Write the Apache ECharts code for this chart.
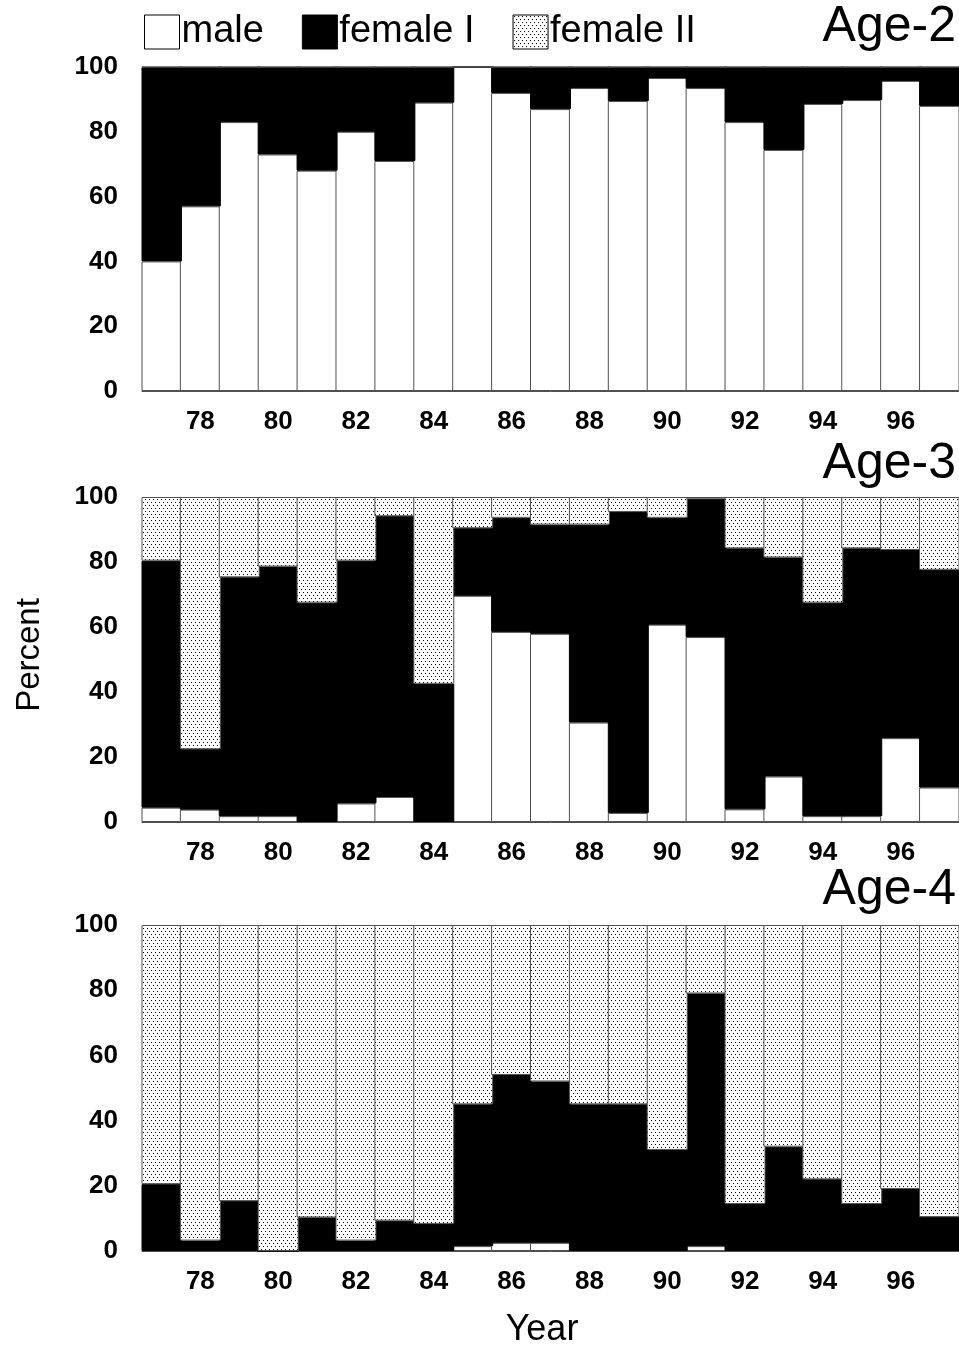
<!DOCTYPE html>
<html>
<head>
<meta charset="utf-8">
<script src="https://cdn.jsdelivr.net/npm/echarts@6/dist/echarts.min.js"></script>
<style>
  html, body { margin: 0; padding: 0; background: #fff; }
  #chart { width: 959px; height: 1347px; }
</style>
</head>
<body>
<div id="chart"></div>
<script>
// Sex / maturity composition (percent) by year, for three age classes
const years = ['77','78','79','80','81','82','83','84','85','86','87','88','89','90','91','92','93','94','95','96','97'];
const yTicks = [0, 20, 40, 60, 80, 100];

// Age-2
const age2Male    = [40, 57, 83, 73, 68, 80, 71, 89, 100, 92, 87, 93.5, 89.5, 96.6, 93.5, 83, 74.4, 88.6, 89.8, 95.7, 88];
const age2FemaleI = [60, 43, 17, 27, 32, 20, 29, 11, 0, 8, 13, 6.5, 10.5, 3.4, 6.5, 17, 25.6, 11.4, 10.2, 4.3, 12];
const age2FemaleII = [0, 0, 0, 0, 0, 0, 0, 0, 0, 0, 0, 0, 0, 0, 0, 0, 0, 0, 0, 0, 0];

// Age-3
const age3Male    = [4.4, 3.8, 1.8, 1.8, 0, 5.7, 7.7, 0, 69.6, 58.5, 57.9, 30.6, 2.8, 60.7, 56.9, 3.9, 14.0, 1.8, 1.8, 25.8, 10.6];
const age3FemaleI = [76.0, 18.6, 73.5, 76.8, 67.5, 74.7, 86.4, 42.5, 20.8, 35.1, 33.6, 60.9, 92.6, 32.9, 42.6, 80.3, 67.4, 65.7, 82.4, 57.9, 67.0];
const age3FemaleII = [19.6, 77.6, 24.7, 21.4, 32.5, 19.6, 5.9, 57.5, 9.6, 6.4, 8.5, 8.5, 4.6, 6.4, 0.5, 15.8, 18.6, 32.5, 15.8, 16.3, 22.4];

// Age-4
const age4Male    = [0, 0, 0, 0, 0, 0, 0, 0, 1.5, 2.5, 2.5, 0, 0, 0, 1.5, 0, 0, 0, 0, 0, 0];
const age4FemaleI = [20.5, 3.2, 15.3, 0, 10.3, 3.2, 9.3, 8.3, 43.5, 51.5, 49.5, 45, 45, 31, 77.5, 14.4, 32, 22, 14.4, 19, 10.4];
const age4FemaleII = [79.5, 96.8, 84.7, 100, 89.7, 96.8, 90.7, 91.7, 55, 46, 48, 55, 55, 69, 21, 85.6, 68, 78, 85.6, 81, 89.6];

const panelNames = ['Age-2', 'Age-3', 'Age-4'];
const legendNames = ['male', 'female I', 'female II'];

// Dotted fill used for "female II": staggered rows of single-pixel dots
function makeStipple() {
  const c = document.createElement('canvas');
  c.width = 4; c.height = 6;
  const g = c.getContext('2d');
  g.fillStyle = '#ffffff';
  g.fillRect(0, 0, 4, 6);
  g.fillStyle = '#000000';
  g.fillRect(1, 1, 1, 1);
  g.fillRect(3, 4, 1, 1);
  return c;
}
const stipple = { image: makeStipple(), repeat: 'repeat' };

const FONT = '"Liberation Sans", Arial, sans-serif';
const gridTops = [67, 497, 925];
const gridHeights = [324, 325, 326];
const titleTops = [2, 439, 865];

const panels = [
  [age2Male, age2FemaleI, age2FemaleII],
  [age3Male, age3FemaleI, age3FemaleII],
  [age4Male, age4FemaleI, age4FemaleII]
];

const styles = [
  { color: '#ffffff', borderColor: '#505050', borderWidth: 1 },
  { color: '#000000', borderColor: '#000000', borderWidth: 1 },
  { color: stipple, borderColor: '#505050', borderWidth: 1 }
];

const grid = [], xAxis = [], yAxis = [], series = [], title = [];
panels.forEach((p, i) => {
  // 21 categories of 39 px each; bars are 41 px so neighbours overlap and
  // adjoining black columns read as one solid block
  grid.push({ left: 142, width: 819, top: gridTops[i], height: gridHeights[i] });
  title.push({
    text: panelNames[i], right: 3, top: titleTops[i], padding: 0,
    textStyle: { fontFamily: FONT, fontSize: 50, fontWeight: 'normal', color: '#000' }
  });
  xAxis.push({
    type: 'category', gridIndex: i, data: years,
    axisTick: { show: false },
    splitLine: { show: false },
    axisLine: { show: true, lineStyle: { color: '#505050', width: 1 } },
    axisLabel: {
      interval: idx => idx % 2 === 1,
      fontFamily: FONT, fontSize: 26, fontWeight: 'bold', color: '#000', margin: 18
    }
  });
  yAxis.push({
    type: 'value', gridIndex: i, min: yTicks[0], max: yTicks[yTicks.length - 1], interval: 20,
    axisLine: { show: false }, axisTick: { show: false }, splitLine: { show: false },
    axisLabel: { fontFamily: FONT, fontSize: 26, fontWeight: 'bold', color: '#000', margin: 24 }
  });
  p.forEach((vals, k) => {
    series.push({
      name: legendNames[k], type: 'bar', stack: 'p' + i,
      xAxisIndex: i, yAxisIndex: i,
      data: vals, barWidth: 41, barGap: '-100%',
      itemStyle: styles[k], emphasis: { disabled: true },
      animation: false
    });
  });
});

const chart = echarts.init(document.getElementById('chart'));
chart.setOption({
  animation: false,
  backgroundColor: '#fff',
  title,
  legend: {
    data: legendNames, left: 144, top: 13, icon: 'rect', padding: 0,
    itemWidth: 35, itemHeight: 34, itemGap: 38,
    itemStyle: { borderWidth: 1, borderColor: '#000' },
    textStyle: { fontFamily: FONT, fontSize: 38, color: '#000', padding: [0, 0, 0, -3] }
  },
  grid, xAxis, yAxis, series,
  graphic: [
    {
      type: 'text', x: 30, y: 655, rotation: Math.PI / 2,
      style: { text: 'Percent', font: '33px ' + FONT, fill: '#000', textAlign: 'center', textVerticalAlign: 'middle' }
    },
    {
      type: 'text', x: 542, y: 1330,
      style: { text: 'Year', font: '36px ' + FONT, fill: '#000', textAlign: 'center', textVerticalAlign: 'middle' }
    }
  ]
});
</script>
</body>
</html>
